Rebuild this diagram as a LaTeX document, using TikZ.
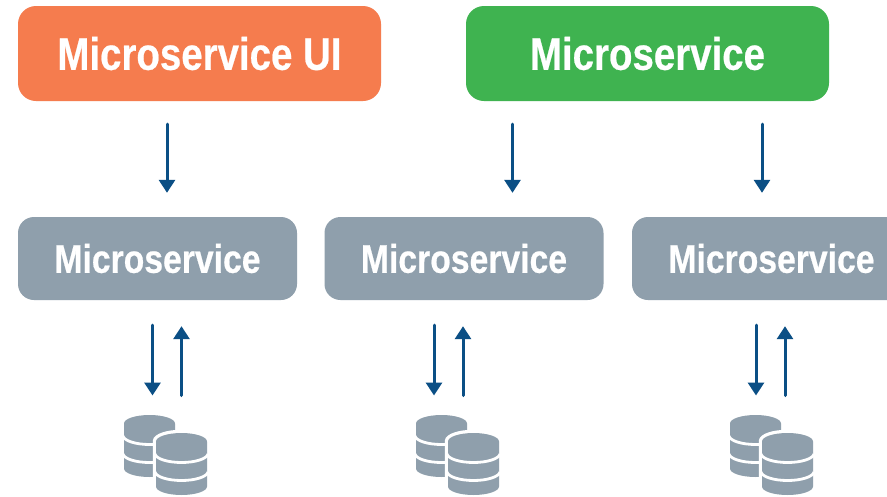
\documentclass[tikz,border=0pt]{standalone}
\usepackage{fontspec}
\setmainfont[FakeStretch=0.843,FakeBold=0.5]{Liberation Sans}
\usetikzlibrary{arrows.meta}
\definecolor{uiorange}{HTML}{F57C4E}
\definecolor{msgreen}{HTML}{3FB350}
\definecolor{msgray}{HTML}{8F9FAC}
\definecolor{flowblue}{HTML}{0B4F85}
\tikzset{
  x=1pt, y=-1pt,
  bigbox/.style={rounded corners=18pt, minimum width=363pt, minimum height=95pt, inner sep=0pt, text=white, font=\fontsize{45.6}{50}\selectfont\bfseries},
  smallbox/.style={fill=msgray, rounded corners=16pt, minimum width=279pt, minimum height=83pt, inner sep=0pt, text=white, font=\fontsize{40}{44}\selectfont\bfseries},
  flow/.style={draw=flowblue, line width=3pt, line cap=round, -{Triangle[width=16pt,length=13pt]}},
  dbcyl/.pic={
    \path[draw=white, line width=6.5pt]
      (0,8.5) .. controls (0,3.8) and (11.4,0) .. (25.5,0)
      .. controls (39.6,0) and (51,3.8) .. (51,8.5) -- (51,53.5)
      .. controls (51,58.2) and (39.6,62) .. (25.5,62)
      .. controls (11.4,62) and (0,58.2) .. (0,53.5) -- cycle;
    \path[fill=msgray]
      (0,8.5) .. controls (0,3.8) and (11.4,0) .. (25.5,0)
      .. controls (39.6,0) and (51,3.8) .. (51,8.5) -- (51,53.5)
      .. controls (51,58.2) and (39.6,62) .. (25.5,62)
      .. controls (11.4,62) and (0,58.2) .. (0,53.5) -- cycle;
    \foreach \g in {21,39}
      \draw[white, line width=2.8pt] (-1,\g) .. controls (0,\g+4.7) and (11.4,\g+8.5) .. (25.5,\g+8.5)
      .. controls (39.6,\g+8.5) and (51,\g+4.7) .. (52,\g);
  }
}
\begin{document}
\begin{tikzpicture}
\useasboundingbox (0,0) rectangle (887,496);
\fill[white] (0,0) rectangle (887,496);
\node[bigbox, fill=uiorange] (ui) at (199.5,53.5) {Microservice UI};
\node[bigbox, fill=msgreen] (top) at (647.5,53.5) {Microservice};
\node[smallbox] (m1) at (157.5,258.5) {Microservice};
\node[smallbox] (m2) at (464,258.5) {Microservice};
\node[smallbox] (m3) at (771.5,258.5) {Microservice};
\foreach \n/\bx/\fx in {1/124/156, 2/416/448, 3/730/762} {
  \path (\bx,415) pic {dbcyl};
  \path (\fx,433) pic {dbcyl};
}
\coordinate (db1) at (165.5,395.5);
\coordinate (db2) at (449,395.5);
\coordinate (db3) at (770.5,395.5);
\draw[flow] ([xshift=-32.5pt,yshift=-23pt]ui.south) -- ([xshift=9.5pt,yshift=24pt]m1.north);
\draw[flow] ([xshift=-135pt,yshift=-23pt]top.south) -- ([xshift=48.5pt,yshift=24pt]m2.north);
\draw[flow] ([xshift=114.5pt,yshift=-23pt]top.south) -- ([xshift=-9.5pt,yshift=24pt]m3.north);
\foreach \n/\d/\u in {1/-5/24, 2/-30/-1, 3/-15.5/13.5} {
  \draw[flow] ([xshift=\d pt,yshift=-25pt]m\n.south) -- ([xshift=\d pt]db\n -| m\n.south);
  \draw[flow] ([xshift=\u pt]db\n -| m\n.south) -- ([xshift=\u pt,yshift=-26pt]m\n.south);
}
\end{tikzpicture}
\end{document}
